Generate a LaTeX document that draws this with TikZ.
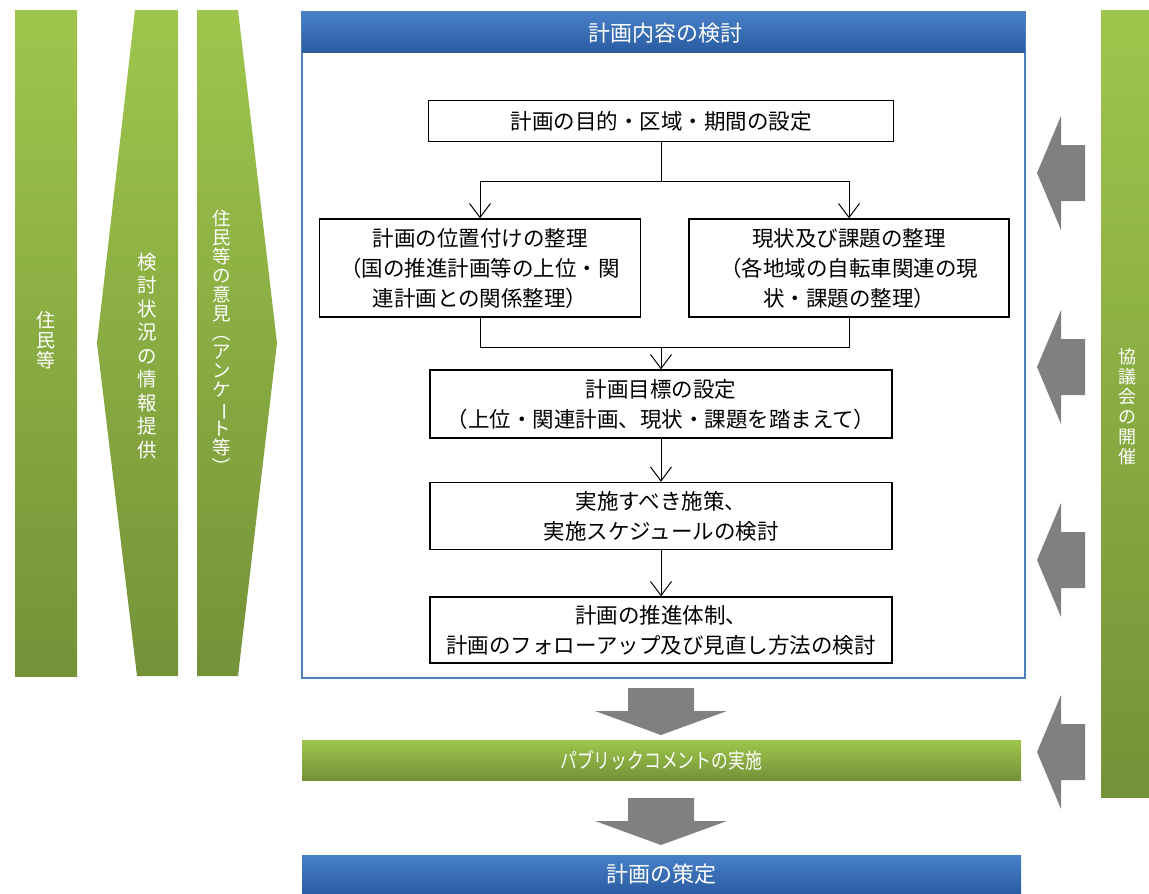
\documentclass[tikz,border=0pt]{standalone}
\usepackage{fontspec}
\setmainfont{Noto Sans CJK JP}
\usetikzlibrary{arrows.meta,positioning,calc}
\definecolor{grtop}{RGB}{158,198,76}
\definecolor{grbot}{RGB}{116,146,56}
\definecolor{bltop}{RGB}{72,128,200}
\definecolor{blbot}{RGB}{42,92,162}
\definecolor{frameblue}{RGB}{79,129,189}
\definecolor{arrgray}{RGB}{128,128,128}
\newcommand{\rv}[1]{\rotatebox[origin=c]{-90}{#1}}
\tikzset{
  greenbar/.style={top color=grtop,bottom color=grbot,draw=none},
  bluebar/.style={top color=bltop,bottom color=blbot,draw=none},
  band/.style={inner sep=0pt,text=white,font=\fontsize{22}{24}\selectfont},
  vt/.style={text=white,align=center,inner sep=0pt},
  stepbox/.style={draw,line width=1.4pt,fill=white,align=center,inner sep=0pt,
                  font=\fontsize{21.5}{30}\selectfont},
  fl/.style={-{Straight Barb[length=14pt,width=21pt]},line width=1pt},
  leftarr/.pic={\fill[arrgray] (0,0) -- (24,-57) -- (24,-28) -- (48,-28)
                -- (48,28) -- (24,28) -- (24,57) -- cycle;},
  downarr/.pic={\fill[arrgray] (-33,0) -- (33,0) -- (33,23) -- (66,23)
                -- (0,47) -- (-66,23) -- (-33,23) -- cycle;},
}

\begin{document}
\begin{tikzpicture}[x=1pt,y=-1pt]
\useasboundingbox (0,0) rectangle (1149,894);
% left bars
\shade[greenbar] (15,10) rectangle (77,676);
\node[vt,font=\fontsize{19}{20}\selectfont] (jumin) at (46,340) {住\\民\\等};
\shade[greenbar] (135,10) -- (178,10) -- (178,676) -- (137,676) -- (97,343) -- cycle;
\node[vt,font=\fontsize{19.5}{23.5}\selectfont] (joho) at (147,356) {検\\討\\状\\況\\の\\情\\報\\提\\供};
\shade[greenbar] (197,10) -- (238,10) -- (277,343) -- (238,676) -- (197,676) -- cycle;
\node[vt,font=\fontsize{18.5}{19}\selectfont] (iken) at (222,343)
  {住\\民\\等\\の\\意\\見\\\rv{（}\\ア\\ン\\ケ\\\rv{ー}\\ト\\等\\\rv{）}};
% right bar
\shade[greenbar] (1101,10) rectangle (1149,797);
\node[vt,font=\fontsize{18}{20}\selectfont] (kyogi) at (1127,407) {協\\議\\会\\の\\開\\催};
\foreach \y in {173,367,560,752}
  \pic at (1037,\y) {leftarr};
% main frame
\draw[frameblue,line width=2.2pt,fill=white] (302,12) rectangle (1025,678);
\shade[bluebar] (302,12) rectangle (1025,52);
\node[band] (kento) at (665,33) {計画内容の検討};
% flow
\node[stepbox,minimum width=465,minimum height=41] (mokuteki) at (661,121)
  {計画の目的・区域・期間の設定};
\node[stepbox,minimum width=321,minimum height=98] (ichi) at (480,268)
  {計画の位置付けの整理\\（国の推進計画等の上位・関\\連計画との関係整理）};
\node[stepbox,minimum width=320,minimum height=98] (genjo) at (849,268)
  {現状及び課題の整理\\（各地域の自転車関連の現\\状・課題の整理）};
\node[stepbox,minimum width=462,minimum height=68] (mokuhyo) at (661,404)
  {計画目標の設定\\（上位・関連計画、現状・課題を踏まえて）};
\node[stepbox,minimum width=462,minimum height=67] (sesaku) at (661,516)
  {実施すべき施策、\\実施スケジュールの検討};
\node[stepbox,minimum width=462,minimum height=66] (taisei) at (661,630)
  {計画の推進体制、\\計画のフォローアップ及び見直し方法の検討};
\coordinate (split) at ($(mokuteki.south)+(0,39)$);
\coordinate (merge) at ($(ichi.south)+(0,30)$);
\draw[line width=1pt] (mokuteki.south) -- (split);
\draw[fl] (split) -| (ichi.north);
\draw[fl] (split) -| (genjo.north);
\draw[line width=1pt] (ichi.south) |- (merge) -| (genjo.south);
\draw[fl] (merge -| mokuhyo.north) -- (mokuhyo.north);
\draw[fl] (mokuhyo) -- (sesaku);
\draw[fl] (sesaku) -- (taisei);
% lower steps
\pic at (661,688) {downarr};
\shade[greenbar] (302,740) rectangle (1021,780);
\node[band,font=\fontsize{21}{24}\selectfont] (pubcom) at (661,760)
  {\scalebox{0.8}[1]{パブリックコメントの実施}};
\pic at (661,798) {downarr};
\shade[bluebar] (302,855) rectangle (1021,894);
\node[band] (sakutei) at (661,874) {計画の策定};
\end{tikzpicture}
\end{document}
